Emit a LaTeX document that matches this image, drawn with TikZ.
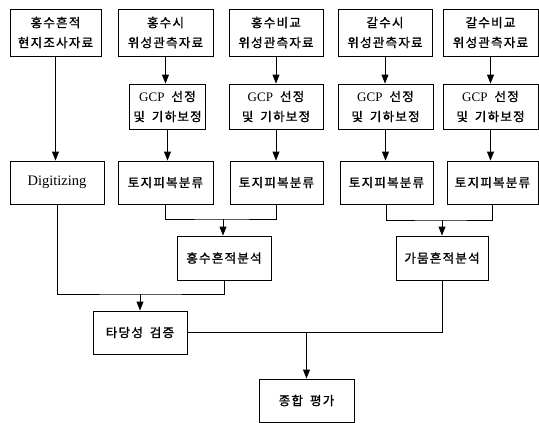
\documentclass[tikz,border=0pt]{standalone}
\usepackage{fontspec}
\setmainfont{Liberation Serif}
\newfontfamily\kofont[LetterSpace=10,FakeBold=1.2]{Noto Sans CJK KR}
\usetikzlibrary{arrows.meta}
\newcommand\wsp{\hspace{7pt}}
\tikzset{
  box/.style={draw, line width=0.9pt, inner sep=0pt, align=center,
    font=\kofont\fontsize{12.5}{20}\selectfont},
  arr/.style={line width=0.9pt, -{Triangle[length=9pt,width=7pt]}},
  ln/.style={line width=0.9pt}
}
\begin{document}
\begin{tikzpicture}[x=1pt,y=-1pt]
\useasboundingbox[fill=white] (0,0) rectangle (539,423);
% top row
\node[box, minimum width=91, minimum height=47] (t1) at (55.5,32.5) {홍수흔적\\현지조사자료};
\node[box, minimum width=95, minimum height=47] (t2) at (165.5,32.5) {홍수시\\위성관측자료};
\node[box, minimum width=94, minimum height=47] (t3) at (276,32.5) {홍수비교\\위성관측자료};
\node[box, minimum width=94, minimum height=47] (t4) at (385,32.5) {갈수시\\위성관측자료};
\node[box, minimum width=95, minimum height=47] (t5) at (490.5,32.5) {갈수비교\\위성관측자료};
% GCP row
\node[box, minimum width=76, minimum height=45] (g2) at (167.5,106.5) {{\rmfamily\fontsize{13}{20}\selectfont GCP}\wsp 선정\\및\wsp 기하보정};
\node[box, minimum width=94, minimum height=45] (g3) at (276,106.5) {{\rmfamily\fontsize{13}{20}\selectfont GCP}\wsp 선정\\및\wsp 기하보정};
\node[box, minimum width=95, minimum height=45] (g4) at (385.5,106.5) {{\rmfamily\fontsize{13}{20}\selectfont GCP}\wsp 선정\\및\wsp 기하보정};
\node[box, minimum width=95, minimum height=45] (g5) at (490.5,106.5) {{\rmfamily\fontsize{13}{20}\selectfont GCP}\wsp 선정\\및\wsp 기하보정};
% third row
\node[box, minimum width=94, minimum height=43, font=\rmfamily\fontsize{14.5}{16}\selectfont] (d) at (57,182.5) {Digitizing};
\node[box, minimum width=95, minimum height=43] (l2) at (165.5,182.5) {토지피복분류};
\node[box, minimum width=93, minimum height=43] (l3) at (276.5,182.5) {토지피복분류};
\node[box, minimum width=93, minimum height=43] (l4) at (386.5,182.5) {토지피복분류};
\node[box, minimum width=91, minimum height=43] (l5) at (492.5,182.5) {토지피복분류};
% analysis
\node[box, minimum width=94, minimum height=44] (h) at (224,258) {홍수흔적분석};
\node[box, minimum width=92, minimum height=44] (k) at (442,258) {가뭄흔적분석};
% validation and synthesis
\node[box, minimum width=94, minimum height=43] (v) at (140,332.5) {타당성\wsp 검증};
\node[box, minimum width=95, minimum height=43] (s) at (306.5,400.5) {종합\wsp 평가};
% vertical arrows
\draw[arr] (t1.south) -- (t1.south |- d.north);
\draw[arr] (t2.south) -- (t2.south |- g2.north);
\draw[arr] (t3.south) -- (t3.south |- g3.north);
\draw[arr] (t4.south) -- (t4.south |- g4.north);
\draw[arr] (t5.south) -- (t5.south |- g5.north);
\draw[arr] (g2.south) -- (g2.south |- l2.north);
\draw[arr] (g3.south) -- (g3.south |- l3.north);
\draw[arr] (g4.south) -- (g4.south |- l4.north);
\draw[arr] (g5.south) -- (g5.south |- l5.north);
% junctions
\coordinate (j1) at (223,219);
\coordinate (j2) at (442,220);
\coordinate (j3) at (140,294);
\coordinate (j4) at (s.north |- v.east);
\draw[ln] (l2.south) |- (j1) -| (l3.south);
\draw[arr] (j1) -- (j1 |- h.north);
\draw[ln] (l4.south) |- (j2) -| (l5.south);
\draw[arr] (j2) -- (k.north);
\draw[ln] (d.south) |- (j3) -| (h.south);
\draw[arr] (j3) -- (v.north);
\draw[ln] (v.east) -- (j4) -| (k.south);
\draw[arr] (j4) -- (s.north);
\end{tikzpicture}
\end{document}
